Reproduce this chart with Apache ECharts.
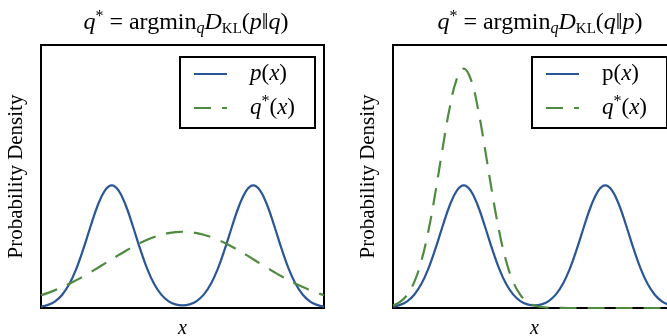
<!DOCTYPE html>
<html>
<head>
<meta charset="utf-8">
<script src="https://cdn.jsdelivr.net/npm/echarts@6/dist/echarts.min.js"></script>
<style>
  html, body { margin: 0; padding: 0; background: #fff; }
  #chart { width: 667px; height: 336px; }
</style>
</head>
<body>
<div id="chart"></div>
<script>
// x positions (box goes 0..1) and densities (box height = 100)
const xs = [0, 0.025, 0.05, 0.075, 0.1, 0.125, 0.15, 0.175, 0.2, 0.225,
            0.25, 0.275, 0.3, 0.325, 0.35, 0.375, 0.4, 0.425, 0.45, 0.475,
            0.5, 0.525, 0.55, 0.575, 0.6, 0.625, 0.65, 0.675, 0.7, 0.725,
            0.75, 0.775, 0.8, 0.825, 0.85, 0.875, 0.9, 0.925, 0.95, 0.975, 1];

// p(x): two bumps, same in both panels
const pValues = [0.50, 1.18, 2.55, 5.05, 9.10, 14.99, 22.55, 30.98, 38.87, 44.54,
                 46.60, 44.54, 38.87, 30.98, 22.55, 14.99, 9.10, 5.07, 2.62, 1.37,
                 1.00, 1.37, 2.62, 5.07, 9.10, 14.99, 22.55, 30.98, 38.87, 44.54,
                 46.60, 44.54, 38.87, 30.98, 22.55, 14.99, 9.10, 5.05, 2.55, 1.18, 0.50];

// left: wide q* covering both modes
const qLeft = [4.83, 5.76, 6.80, 7.95, 9.22, 10.59, 12.05, 13.61, 15.22, 16.87,
               18.53, 20.18, 21.78, 23.29, 24.68, 25.93, 27.00, 27.86, 28.49, 28.87,
               29.00, 28.87, 28.49, 27.86, 27.00, 25.93, 24.68, 23.29, 21.78, 20.18,
               18.53, 16.87, 15.22, 13.61, 12.05, 10.59, 9.22, 7.95, 6.80, 5.76, 4.83];

// right: q* locked on the first mode
const qRight = [0.97, 2.31, 4.99, 9.85, 17.78, 29.27, 44.04, 60.51, 75.91, 86.97,
                91.00, 86.97, 75.91, 60.51, 44.04, 29.27, 17.78, 9.85, 4.99, 2.31,
                0.97, 0.38, 0.13, 0.04, 0.01, 0, 0, 0, 0, 0,
                0, 0, 0, 0, 0, 0, 0, 0, 0, 0, 0];

const BLUE = '#2a5596';
const GREEN = '#4f8b3f';
const SERIF = '"Liberation Serif", "DejaVu Serif", serif';

const pairs = vals => xs.map((x, i) => [x, vals[i]]);

function mathRich(size) {
  const base = { fontFamily: SERIF, fontWeight: 'normal', color: '#000' };
  return {
    i: Object.assign({}, base, { fontStyle: 'italic', fontSize: size, lineHeight: 28, verticalAlign: 'middle' }),
    r: Object.assign({}, base, { fontSize: size, lineHeight: 28, verticalAlign: 'middle' }),
    sup: Object.assign({}, base, { fontSize: Math.round(size * 0.68), lineHeight: 24, verticalAlign: 'top' }),
    sub: Object.assign({}, base, { fontStyle: 'italic', fontSize: Math.round(size * 0.66), lineHeight: 17, verticalAlign: 'bottom' }),
    kl: Object.assign({}, base, { fontSize: Math.round(size * 0.64), lineHeight: 23, verticalAlign: 'bottom' })
  };
}

function curve(name, idx, data, color, dashed) {
  return {
    name: name,
    type: 'line',
    xAxisIndex: idx,
    yAxisIndex: idx,
    data: pairs(data),
    smooth: 0.4,
    symbol: 'none',
    silent: true,
    lineStyle: { color: color, width: 2.2, type: dashed ? [17, 11] : 'solid' },
    z: dashed ? 3 : 2
  };
}

function legendBox(left, top, pLabel) {
  const rich = mathRich(23);
  return [
    { type: 'rect', shape: { x: left, y: top, width: 135, height: 71 },
      style: { fill: '#fff', stroke: '#000', lineWidth: 2 }, z: 10 },
    { type: 'line', shape: { x1: left + 14, y1: top + 17, x2: left + 47, y2: top + 17 },
      style: { stroke: BLUE, lineWidth: 2.2 }, z: 11 },
    { type: 'line', shape: { x1: left + 14, y1: top + 51, x2: left + 47, y2: top + 51 },
      style: { stroke: GREEN, lineWidth: 2.2, lineDash: [17, 11] }, z: 11 },
    { type: 'text', x: left + 70, y: top + 17, z: 11,
      style: { text: pLabel, rich: rich, verticalAlign: 'middle', fill: '#000' } },
    { type: 'text', x: left + 70, y: top + 51, z: 11,
      style: { text: '{i|q}{sup|*}{r|(}{i|x}{r|)}', rich: rich, verticalAlign: 'middle', fill: '#000' } }
  ];
}

const axisCommon = {
  type: 'value',
  axisLine: { show: false },
  axisTick: { show: false },
  axisLabel: { show: false },
  splitLine: { show: false }
};

const titleRich = mathRich(24);

const chart = echarts.init(document.getElementById('chart'));

chart.setOption({
  animation: false,
  backgroundColor: '#fff',
  title: [
    { text: '{i|q}{sup|*}{r| = argmin}{sub|q}{i|D}{kl|KL}{r|(}{i|p}{r|‖}{i|q}{r|)}',
      left: 181, top: 4, textAlign: 'center',
      textStyle: { fontWeight: 'normal', rich: titleRich } },
    { text: '{i|q}{sup|*}{r| = argmin}{sub|q}{i|D}{kl|KL}{r|(}{i|q}{r|‖}{i|p}{r|)}',
      left: 535, top: 4, textAlign: 'center',
      textStyle: { fontWeight: 'normal', rich: titleRich } }
  ],
  grid: [
    { left: 41, top: 45, width: 283, height: 263, outerBoundsMode: 'none',
      show: true, borderColor: '#000', borderWidth: 2 },
    { left: 393, top: 45, width: 283, height: 263, outerBoundsMode: 'none',
      show: true, borderColor: '#000', borderWidth: 2 }
  ],
  xAxis: [0, 1].map(i => Object.assign({}, axisCommon, {
    gridIndex: i, min: 0, max: 1,
    name: 'x', nameLocation: 'middle', nameGap: 11,
    nameTextStyle: { fontFamily: SERIF, fontStyle: 'italic', fontSize: 20, color: '#000' }
  })),
  yAxis: [0, 1].map(i => Object.assign({}, axisCommon, {
    gridIndex: i, min: 0, max: 100,
    name: 'Probability Density', nameLocation: 'middle', nameGap: 14,
    nameTextStyle: { fontFamily: SERIF, fontSize: 21, color: '#000' }
  })),
  series: [
    curve('p(x)', 0, pValues, BLUE, false),
    curve('q*(x)', 0, qLeft, GREEN, true),
    curve('p(x)', 1, pValues, BLUE, false),
    curve('q*(x)', 1, qRight, GREEN, true)
  ],
  graphic: legendBox(180, 57, '{i|p}{r|(}{i|x}{r|)}')
    .concat(legendBox(532, 57, '{r|p(}{i|x}{r|)}'))
});
</script>
</body>
</html>
